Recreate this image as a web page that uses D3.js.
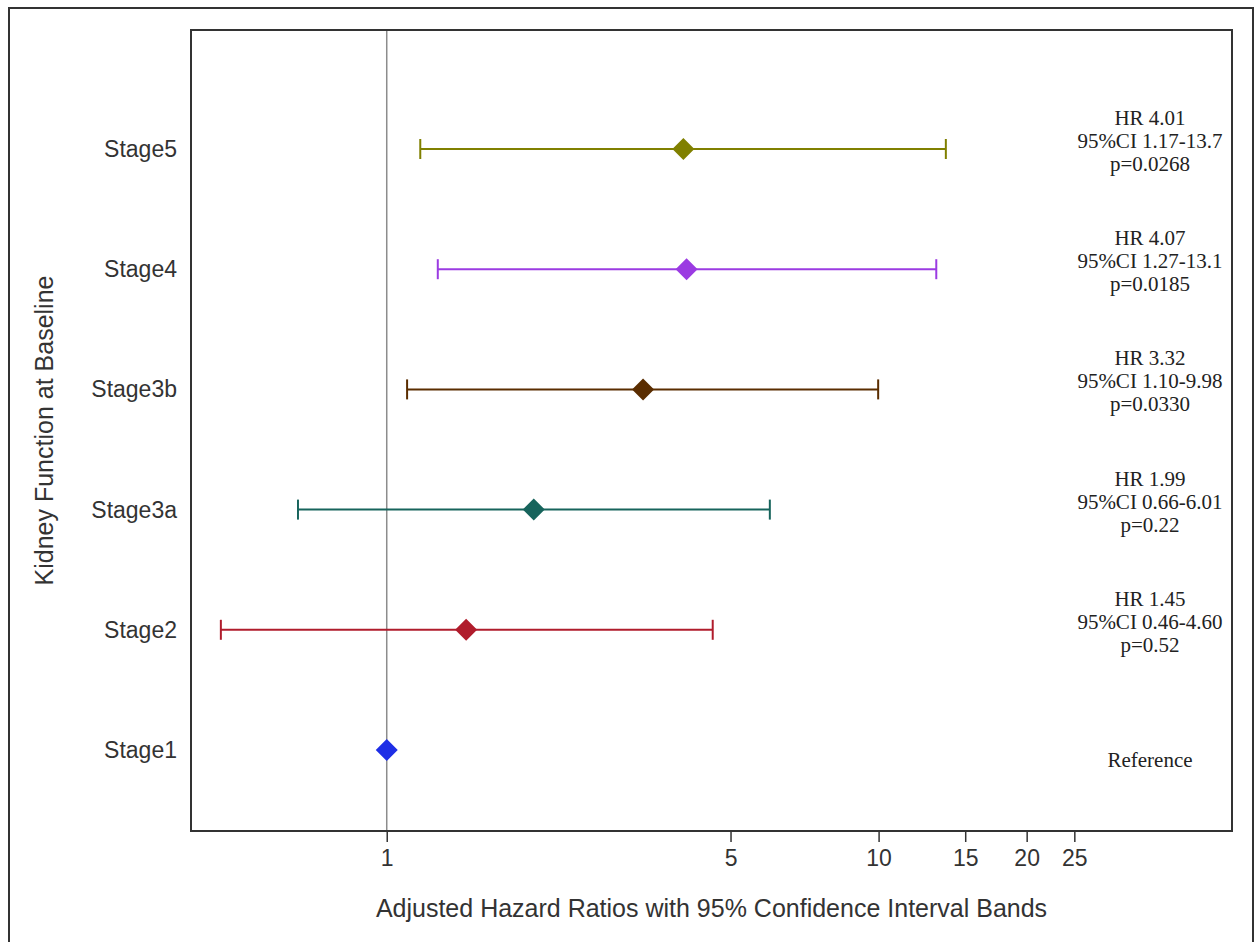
<!DOCTYPE html>
<html><head><meta charset="utf-8">
<script src="https://cdn.jsdelivr.net/npm/d3@7"></script>
<style>body{margin:0;background:#fff}</style>
</head><body>
<script>
const categories = ["Stage5","Stage4","Stage3b","Stage3a","Stage2","Stage1"];
const hr      = [4.01, 4.07, 3.32, 1.99, 1.45, 1.00];
const lower   = [1.17, 1.27, 1.10, 0.66, 0.46, null];
const upper   = [13.7, 13.1, 9.98, 6.01, 4.60, null];
const colors  = ["#808000","#9b3be2","#5a2d00","#17645c","#b01c2c","#1e2ee6"];
const annotations = [
  ["HR 4.01","95%CI 1.17-13.7","p=0.0268"],
  ["HR 4.07","95%CI 1.27-13.1","p=0.0185"],
  ["HR 3.32","95%CI 1.10-9.98","p=0.0330"],
  ["HR 1.99","95%CI 0.66-6.01","p=0.22"],
  ["HR 1.45","95%CI 0.46-4.60","p=0.52"],
  ["Reference"]
];
const tickValues = [1,5,10,15,20,25];

const W=1256,H=942;
const sans="'Liberation Sans',Arial,sans-serif";
const serif="'Liberation Serif','Times New Roman',serif";
const svg=d3.select("body").append("svg").attr("width",W).attr("height",H);
svg.append("rect").attr("x",9).attr("y",8).attr("width",1244).attr("height",960)
  .attr("fill","none").attr("stroke","#333").attr("stroke-width",2);

const m={left:191,top:30,right:1232,bottom:831};
const x=d3.scaleLog().domain([0.4,52.3]).range([m.left,m.right]);
const y=d3.scalePoint().domain(categories).range([m.top+119,m.bottom-81]);

const g=svg.append("g");
g.append("line").attr("x1",x(1)).attr("x2",x(1)).attr("y1",m.top).attr("y2",m.bottom)
  .attr("stroke","#8c8c8c").attr("stroke-width",1.5);

const xAxis=d3.axisBottom(x).tickValues(tickValues).tickFormat(d3.format("d")).tickSize(11).tickPadding(8);
const ax=svg.append("g").attr("transform",`translate(0,${m.bottom})`).call(xAxis);
ax.select(".domain").remove();
ax.selectAll("line").attr("stroke","#333").attr("stroke-width",1.5);
ax.selectAll("text").attr("font-family",sans).attr("font-size",23).attr("fill","#333");

svg.append("rect").attr("x",m.left).attr("y",m.top).attr("width",m.right-m.left).attr("height",m.bottom-m.top)
  .attr("fill","none").attr("stroke","#333").attr("stroke-width",2);

svg.append("g").selectAll("text").data(categories).join("text")
  .attr("x",177).attr("y",d=>y(d)).attr("dy","0.35em").attr("text-anchor","end")
  .attr("font-family",sans).attr("font-size",23).attr("fill","#333").text(d=>d);

categories.forEach((c,i)=>{
  const yy=y(c);
  if(lower[i]!=null){
    g.append("line").attr("x1",x(lower[i])).attr("x2",x(upper[i])).attr("y1",yy).attr("y2",yy)
      .attr("stroke",colors[i]).attr("stroke-width",2);
    [lower[i],upper[i]].forEach(v=>{
      g.append("line").attr("x1",x(v)).attr("x2",x(v)).attr("y1",yy-10).attr("y2",yy+10)
        .attr("stroke",colors[i]).attr("stroke-width",2);
    });
  }
  g.append("path").attr("transform",`translate(${x(hr[i])},${yy})`)
    .attr("d","M0,-11L11,0L0,11L-11,0Z").attr("fill",colors[i]);
  const lines=annotations[i];
  const t=svg.append("text").attr("font-family",serif)
    .attr("font-size",21).attr("fill","#222").attr("text-anchor","middle");
  lines.forEach((s,k)=>{
    const base = lines.length===1 ? yy+17 : yy-1+(k-1)*23;
    t.append("tspan").attr("x",1150).attr("y",base).text(s);
  });
});

svg.append("text").attr("x",(m.left+m.right)/2).attr("y",917).attr("text-anchor","middle")
  .attr("font-family",sans).attr("font-size",25).attr("fill","#333")
  .text("Adjusted Hazard Ratios with 95% Confidence Interval Bands");
svg.append("text").attr("transform",`translate(53,${(m.top+m.bottom)/2}) rotate(-90)`).attr("text-anchor","middle")
  .attr("font-family",sans).attr("font-size",25).attr("fill","#333")
  .text("Kidney Function at Baseline");
</script>
</body></html>
